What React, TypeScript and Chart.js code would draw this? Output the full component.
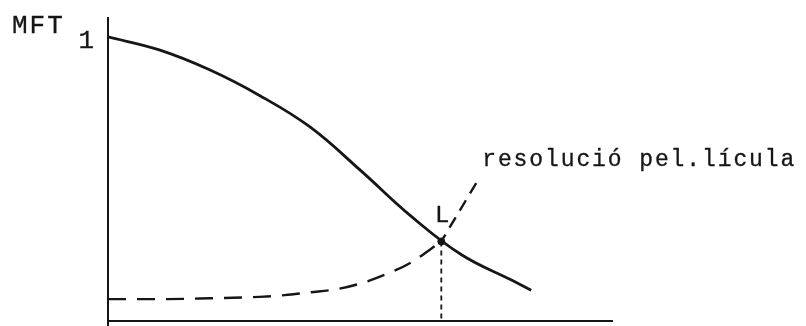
import { useEffect, useRef } from "react";
import { Chart, registerables } from "chart.js";

Chart.register(...registerables);

// MTF of the imaging system, falling from 1 as spatial frequency grows
const mtfX = [0, 1, 2, 3, 4, 5, 6, 7, 8, 8.38];
const mtfY = [1.0, 0.955, 0.885, 0.794, 0.683, 0.53, 0.369, 0.233, 0.143, 0.108];

// film resolution threshold curve (dashed), rising up to the limit point L
const filmX = [0, 1, 2, 3, 3.5, 4, 4.5, 5, 5.5, 6, 6.6];
const filmY = [0.077, 0.077, 0.08, 0.085, 0.091, 0.101, 0.111, 0.132, 0.164, 0.206, 0.28];

// leader from L to the film label
const leaderX = [6.6, 7.37];
const leaderY = [0.28, 0.509];

// limiting resolution L where both curves meet
const limitX = 6.6;
const limitY = 0.28;

const xRange = [0, 10];
const yRange = [0, 1.07];
const yTicks = ["1"];
const yTickValues = [1];

const axisTitle = "MFT";
const limitLabel = "L";
const filmLabel = "resolució pel.lícula";

const ink = "#161616";
const mono = "'Liberation Mono', 'DejaVu Sans Mono', monospace";

const pts = (xs: number[], ys: number[]) => xs.map((x, i) => ({ x, y: ys[i] }));

const drawText = (ctx: CanvasRenderingContext2D, text: string, x: number, y: number) => {
  ctx.fillText(text, x, y);
  ctx.strokeText(text, x, y);
};

const overlay = {
  id: "overlay",
  afterDatasetsDraw(chart: any) {
    const { ctx } = chart;
    const xs = chart.scales.x;
    const ys = chart.scales.y;
    const x0 = xs.getPixelForValue(0);
    const y0 = ys.getPixelForValue(0);
    ctx.save();
    ctx.strokeStyle = ink;
    ctx.lineWidth = 2;
    ctx.lineCap = "butt";
    ctx.setLineDash([]);
    // vertical axis
    ctx.beginPath();
    ctx.moveTo(x0, ys.top);
    ctx.lineTo(x0, chart.height);
    ctx.stroke();
    // horizontal axis
    ctx.beginPath();
    ctx.moveTo(x0, y0);
    ctx.lineTo(xs.right, y0);
    ctx.stroke();

    ctx.fillStyle = ink;
    ctx.lineWidth = 0.3;
    ctx.textBaseline = "alphabetic";

    // axis title
    ctx.font = `26px ${mono}`;
    (ctx as any).letterSpacing = "2px";
    ctx.textAlign = "left";
    drawText(ctx, axisTitle, x0 - 96, ys.top + 16);

    // tick label
    (ctx as any).letterSpacing = "0px";
    ctx.textAlign = "right";
    yTickValues.forEach((v, i) => {
      drawText(ctx, yTicks[i], x0 - 14, ys.getPixelForValue(v) + 11);
    });

    // L label
    const lx = xs.getPixelForValue(limitX);
    const ly = ys.getPixelForValue(limitY);
    ctx.font = `24px ${mono}`;
    ctx.textAlign = "center";
    drawText(ctx, limitLabel, lx + 1, ly - 19);

    // film label at the end of the leader
    const ex = xs.getPixelForValue(leaderX[leaderX.length - 1]);
    const ey = ys.getPixelForValue(leaderY[leaderY.length - 1]);
    ctx.font = `23px ${mono}`;
    (ctx as any).letterSpacing = "1.9px";
    ctx.textAlign = "left";
    drawText(ctx, filmLabel, ex + 2, ey - 10);
    ctx.restore();
  },
};

export default function App() {
  const ref = useRef<HTMLCanvasElement | null>(null);

  useEffect(() => {
    if (!ref.current) return;
    const chart = new Chart(ref.current, {
      type: "scatter",
      data: {
        datasets: [
          {
            data: pts(mtfX, mtfY),
            showLine: true,
            borderColor: ink,
            borderWidth: 2.8,
            tension: 0.4,
            pointRadius: 0,
          },
          {
            data: pts(filmX, filmY),
            showLine: true,
            borderColor: ink,
            borderWidth: 2.4,
            borderDash: [18, 11],
            cubicInterpolationMode: "monotone",
            pointRadius: 0,
          },
          {
            data: pts(leaderX, leaderY),
            showLine: true,
            borderColor: ink,
            borderWidth: 2.4,
            borderDash: [12, 8],
            borderDashOffset: 4,
            tension: 0,
            pointRadius: 0,
          },
          {
            data: [
              { x: limitX, y: limitY },
              { x: limitX, y: 0 },
            ],
            showLine: true,
            borderColor: ink,
            borderWidth: 1.8,
            borderDash: [5, 4],
            tension: 0,
            pointRadius: 0,
          },
          {
            data: [{ x: limitX, y: limitY }],
            showLine: false,
            pointStyle: "circle",
            pointRadius: 3.5,
            pointBackgroundColor: ink,
            pointBorderColor: ink,
            pointBorderWidth: 1,
          },
        ],
      },
      options: {
        animation: false,
        responsive: false,
        maintainAspectRatio: false,
        devicePixelRatio: 1,
        layout: { padding: { left: 108, right: 193, top: 17, bottom: 2 } },
        plugins: {
          legend: { display: false },
          tooltip: { enabled: false },
          title: { display: false },
        },
        scales: {
          x: { type: "linear", display: false, min: xRange[0], max: xRange[1] },
          y: { type: "linear", display: false, min: yRange[0], max: yRange[1] },
        },
      },
      plugins: [overlay],
    });
    return () => chart.destroy();
  }, []);

  return (
    <div style={{ position: "absolute", left: 0, top: 0, width: 806, height: 326, background: "#ffffff" }}>
      <canvas ref={ref} width={806} height={326} style={{ display: "block", width: 806, height: 326 }} />
    </div>
  );
}
